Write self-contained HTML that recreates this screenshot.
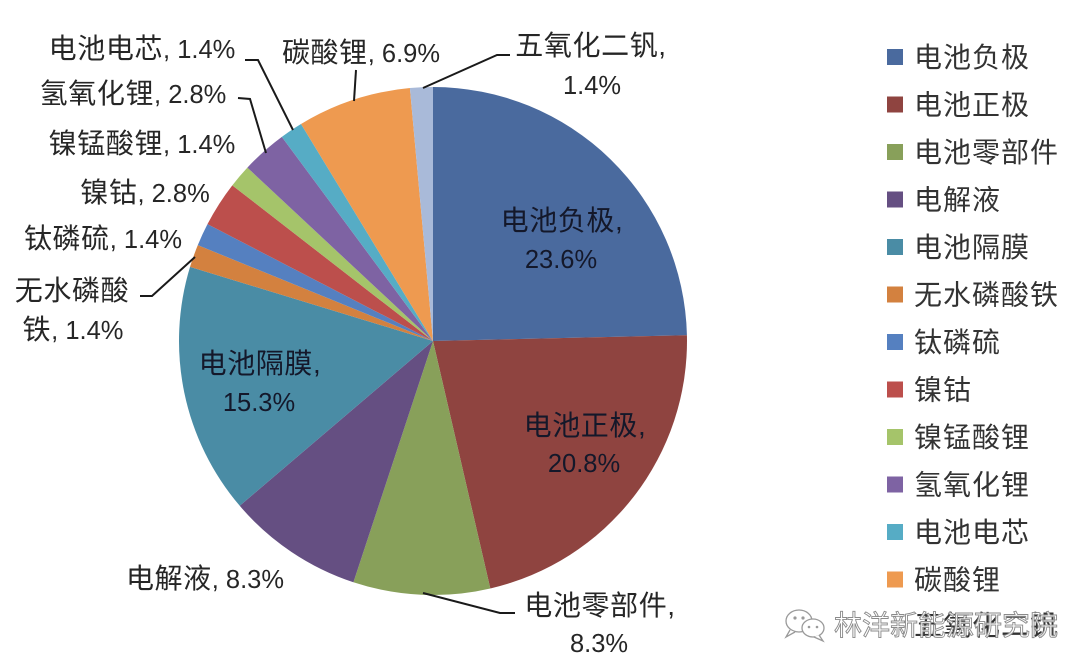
<!DOCTYPE html>
<html>
<head>
<meta charset="utf-8">
<style>
  html, body { margin:0; padding:0; background:#ffffff; }
  body { width:1080px; height:671px; overflow:hidden; }
  svg { display:block; }
  text { font-family: "Liberation Sans", "Noto Sans CJK SC", sans-serif; }
  .lbl { font-size:28px; fill:#262626; letter-spacing:0.6px; }
  .in { fill:#14182a; }
  .pct { font-size:25.5px; letter-spacing:0; }
  .leg { font-size:28px; fill:#333333; letter-spacing:1px; }
  .wm { font-size:28px; fill:#ffffff; fill-opacity:0.85; stroke:#8a8a8a; stroke-width:0.9px; letter-spacing:0; font-family: "Liberation Sans", "Noto Sans CJK SC", sans-serif; }
</style>
</head>
<body>
<svg width="1080" height="671" viewBox="0 0 1080 671" xmlns="http://www.w3.org/2000/svg">
  <!-- Pie slices: center (433,341), r=254 -->
  <g>
    <path d="M433,341 L433,87 A254,254 0 0 1 686.93,335.22 Z" fill="#4A6A9E"/>
    <path d="M433,341 L686.93,335.22 A254,254 0 0 1 490.32,588.45 Z" fill="#8F4440"/>
    <path d="M433,341 L490.32,588.45 A254,254 0 0 1 353.40,582.21 Z" fill="#88A05A"/>
    <path d="M433,341 L353.40,582.21 A254,254 0 0 1 239.73,505.81 Z" fill="#654F82"/>
    <path d="M433,341 L239.73,505.81 A254,254 0 0 1 190.04,266.92 Z" fill="#4A8CA5"/>
    <path d="M433,341 L190.04,266.92 A254,254 0 0 1 197.80,245.14 Z" fill="#D3813F"/>
    <path d="M433,341 L197.80,245.14 A254,254 0 0 1 207.48,224.15 Z" fill="#5580C0"/>
    <path d="M433,341 L207.48,224.15 A254,254 0 0 1 232.30,185.33 Z" fill="#BC4F4C"/>
    <path d="M433,341 L232.30,185.33 A254,254 0 0 1 247.37,167.63 Z" fill="#A5C46A"/>
    <path d="M433,341 L247.37,167.63 A254,254 0 0 1 281.85,136.87 Z" fill="#7E63A3"/>
    <path d="M433,341 L281.85,136.87 A254,254 0 0 1 301.01,123.98 Z" fill="#56ACC5"/>
    <path d="M433,341 L301.01,123.98 A254,254 0 0 1 409.90,88.05 Z" fill="#EE9A50"/>
    <path d="M433,341 L409.90,88.05 A254,254 0 0 1 433,87 Z" fill="#A9BAD9"/>
  </g>

  <!-- Leader lines -->
  <g fill="none" stroke="#1a1a1a" stroke-width="2">
    <polyline points="245,60 258,60 293,130"/>
    <polyline points="356,70 354,101"/>
    <polyline points="238,98 250,99 266,153"/>
    <polyline points="140,296 152,296 195,257"/>
    <polyline points="510,55 497,55 423,88"/>
    <polyline points="515,613 500,613 423,593"/>
  </g>

  <!-- Data labels inside pie -->
  <text class="lbl in" x="562" y="230" text-anchor="middle">电池负极,</text>
  <text class="lbl in pct" x="561" y="268" text-anchor="middle">23.6%</text>
  <text class="lbl in" x="585" y="435" text-anchor="middle">电池正极,</text>
  <text class="lbl in pct" x="584" y="472" text-anchor="middle">20.8%</text>
  <text class="lbl in" x="260" y="373" text-anchor="middle">电池隔膜,</text>
  <text class="lbl in pct" x="259" y="411" text-anchor="middle">15.3%</text>

  <!-- Data labels outside pie -->
  <text class="lbl" x="205" y="588" text-anchor="middle">电解液<tspan class="pct">, 8.3%</tspan></text>
  <text class="lbl" x="600" y="615" text-anchor="middle">电池零部件,</text>
  <text class="lbl pct" x="599" y="652" text-anchor="middle">8.3%</text>
  <text class="lbl" x="591" y="55" text-anchor="middle">五氧化二钒,</text>
  <text class="lbl pct" x="592" y="94" text-anchor="middle">1.4%</text>
  <text class="lbl" x="361" y="62" text-anchor="middle">碳酸锂<tspan class="pct">, 6.9%</tspan></text>
  <text class="lbl" x="142" y="58" text-anchor="middle">电池电芯<tspan class="pct">, 1.4%</tspan></text>
  <text class="lbl" x="133" y="103" text-anchor="middle">氢氧化锂<tspan class="pct">, 2.8%</tspan></text>
  <text class="lbl" x="142" y="153" text-anchor="middle">镍锰酸锂<tspan class="pct">, 1.4%</tspan></text>
  <text class="lbl" x="145" y="202" text-anchor="middle">镍钴<tspan class="pct">, 2.8%</tspan></text>
  <text class="lbl" x="103" y="248" text-anchor="middle">钛磷硫<tspan class="pct">, 1.4%</tspan></text>
  <text class="lbl" x="72" y="300" text-anchor="middle">无水磷酸</text>
  <text class="lbl" x="73" y="339" text-anchor="middle">铁<tspan class="pct">, 1.4%</tspan></text>

  <!-- Legend -->
  <g>
    <rect x="887" y="49" width="16" height="16" fill="#4A6A9E"/>
    <text class="leg" x="914" y="67">电池负极</text>
    <rect x="887" y="96.5" width="16" height="16" fill="#8F4440"/>
    <text class="leg" x="914" y="114.5">电池正极</text>
    <rect x="887" y="144" width="16" height="16" fill="#88A05A"/>
    <text class="leg" x="914" y="162">电池零部件</text>
    <rect x="887" y="191.5" width="16" height="16" fill="#654F82"/>
    <text class="leg" x="914" y="209.5">电解液</text>
    <rect x="887" y="239" width="16" height="16" fill="#4A8CA5"/>
    <text class="leg" x="914" y="257">电池隔膜</text>
    <rect x="887" y="286.5" width="16" height="16" fill="#D3813F"/>
    <text class="leg" x="914" y="304.5">无水磷酸铁</text>
    <rect x="887" y="334" width="16" height="16" fill="#5580C0"/>
    <text class="leg" x="914" y="352">钛磷硫</text>
    <rect x="887" y="381.5" width="16" height="16" fill="#BC4F4C"/>
    <text class="leg" x="914" y="399.5">镍钴</text>
    <rect x="887" y="429" width="16" height="16" fill="#A5C46A"/>
    <text class="leg" x="914" y="447">镍锰酸锂</text>
    <rect x="887" y="476.5" width="16" height="16" fill="#7E63A3"/>
    <text class="leg" x="914" y="494.5">氢氧化锂</text>
    <rect x="887" y="524" width="16" height="16" fill="#56ACC5"/>
    <text class="leg" x="914" y="542">电池电芯</text>
    <rect x="887" y="571.5" width="16" height="16" fill="#EE9A50"/>
    <text class="leg" x="914" y="589.5">碳酸锂</text>
    <text class="leg" x="914" y="635" fill="#555">五氧化二钒</text>
  </g>

  <!-- Watermark -->
  <g>
    <ellipse cx="799" cy="621" rx="13" ry="11" fill="#fff" stroke="#9a9a9a" stroke-width="1.3"/>
    <path d="M790,630 L786,637 L795,632" fill="#fff" stroke="#9a9a9a" stroke-width="1.3"/>
    <ellipse cx="813" cy="628" rx="11" ry="9" fill="#fff" stroke="#9a9a9a" stroke-width="1.3"/>
    <path d="M819,635 L823,641 L814,637" fill="#fff" stroke="#9a9a9a" stroke-width="1.3"/>
    <circle cx="795" cy="618" r="1.6" fill="#9a9a9a"/>
    <circle cx="803" cy="618" r="1.6" fill="#9a9a9a"/>
    <circle cx="809" cy="627" r="1.3" fill="#9a9a9a"/>
    <circle cx="817" cy="627" r="1.3" fill="#9a9a9a"/>
    <text class="wm" x="834" y="635">林洋新能源研究院</text>
  </g>
</svg>
</body>
</html>
